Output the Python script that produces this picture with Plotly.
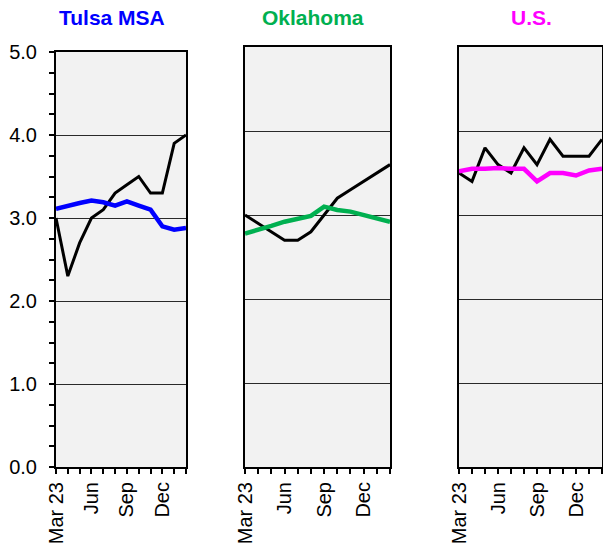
import plotly.graph_objects as go

months = ["Mar 23", "Apr", "May", "Jun", "Jul", "Aug", "Sep", "Oct", "Nov", "Dec", "Jan", "Feb"]
shown_labels = ["Mar 23", "Jun", "Sep", "Dec"]

tulsa_black = [3.0, 2.3, 2.7, 3.0, 3.1, 3.3, 3.4, 3.5, 3.3, 3.3, 3.9, 4.0]
tulsa_color = [3.11, 3.15, 3.18, 3.21, 3.19, 3.15, 3.20, 3.15, 3.10, 2.90, 2.86, 2.88]

ok_black = [3.0, 2.9, 2.8, 2.7, 2.7, 2.8, 3.0, 3.2, 3.3, 3.4, 3.5, 3.6]
ok_color = [2.78, 2.82, 2.87, 2.92, 2.96, 2.99, 3.10, 3.06, 3.04, 3.00, 2.96, 2.92]

us_black = [3.5, 3.4, 3.8, 3.6, 3.5, 3.8, 3.6, 3.9, 3.7, 3.7, 3.7, 3.9]
us_color = [3.52, 3.55, 3.55, 3.56, 3.55, 3.55, 3.40, 3.50, 3.50, 3.47, 3.53, 3.55]

titles = ["Tulsa MSA", "Oklahoma", "U.S."]
title_colors = ["#0000ff", "#00b050", "#ff00ff"]

FONT = "Arial, Liberation Sans, sans-serif"
W, H = 603, 547
L, R, T, B = 56, 1, 47, 80
pw, ph = W - L - R, H - T - B

def px_x(a, b):
    return [(a - L) / pw, (b - L) / pw]

def px_y(top, bottom):
    return [(H - B - bottom) / ph, (H - B - top) / ph]

x_domains = [px_x(56, 186), px_x(245, 390), px_x(459, 602)]
y_domains = [px_y(52, 467), px_y(47, 467), px_y(47, 467)]

ticktext = [m if m in shown_labels else "" for m in months]

fig = go.Figure()
series = [(tulsa_black, tulsa_color), (ok_black, ok_color), (us_black, us_color)]
for i, (blk, col) in enumerate(series):
    sfx = "" if i == 0 else str(i + 1)
    fig.add_trace(go.Scatter(x=months, y=blk, mode="lines", line=dict(color="black", width=3),
                             xaxis="x" + sfx, yaxis="y" + sfx, showlegend=False))
    fig.add_trace(go.Scatter(x=months, y=col, mode="lines", line=dict(color=title_colors[i], width=4.5),
                             xaxis="x" + sfx, yaxis="y" + sfx, showlegend=False))

layout = dict(
    width=W, height=H,
    margin=dict(l=L, r=R, t=T, b=B, autoexpand=False),
    paper_bgcolor="white",
    plot_bgcolor="#f2f2f2",
    font=dict(family=FONT, size=20, color="black"),
    showlegend=False,
)
for i in range(3):
    sfx = "" if i == 0 else str(i + 1)
    layout["xaxis" + sfx] = dict(
        domain=x_domains[i], anchor="y" + sfx, type="category", automargin=False,
        range=[0, 11], tickmode="array", tickvals=months, ticktext=ticktext,
        tickangle=-90, ticks="outside", ticklen=5, tickwidth=2, tickcolor="black",
        showline=True, linecolor="black", linewidth=2, mirror=True,
        showgrid=False, zeroline=False, fixedrange=True,
    )
    ya = dict(
        domain=y_domains[i], anchor="x" + sfx, range=[0, 5], automargin=False,
        tickmode="array", tickvals=[0, 1, 2, 3, 4, 5],
        showline=True, linecolor="black", linewidth=2, mirror=True,
        showgrid=True, gridcolor="#2a2a2a", gridwidth=1, zeroline=False, fixedrange=True,
    )
    if i == 0:
        ya.update(tickformat=".1f", ticks="outside", ticklen=5, tickwidth=2, tickcolor="black",
                  showticklabels=True, ticklabelstandoff=8,
                  minor=dict(tickvals=[x / 4 for x in range(21)], ticks="outside", ticklen=5,
                             tickwidth=2, tickcolor="black", showgrid=False))
    else:
        ya.update(ticks="", showticklabels=False)
    layout["yaxis" + sfx] = ya

fig.update_layout(**layout)

title_x = [112, 313, 531]
for i, t in enumerate(titles):
    fig.add_annotation(text="<b>" + t + "</b>", xref="paper", yref="paper",
                       x=(title_x[i] - L) / pw, y=(H - B - 17) / ph,
                       xanchor="center", yanchor="middle", showarrow=False,
                       font=dict(family=FONT, size=21, color=title_colors[i]))

fig.write_html("out.html", config={"displayModeBar": False},
               post_script="document.body.style.margin='0';document.body.style.overflow='hidden';")
